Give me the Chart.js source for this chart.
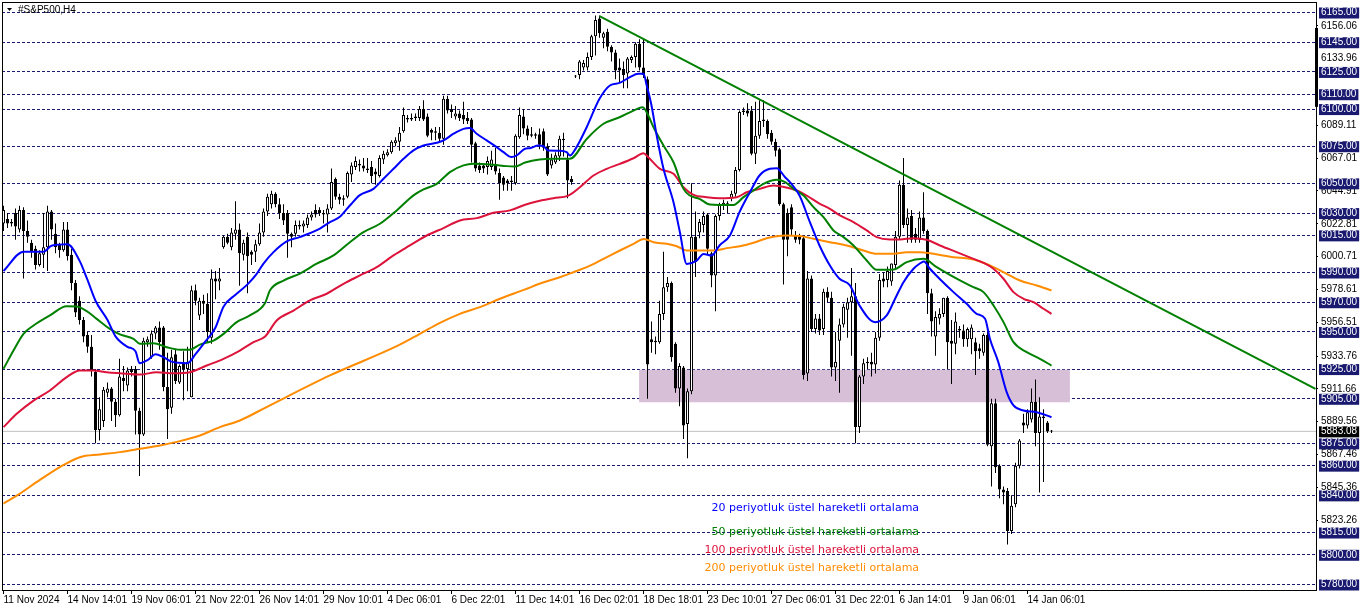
<!DOCTYPE html>
<html>
<head>
<meta charset="utf-8">
<script src="https://cdn.jsdelivr.net/npm/chart.js@4/dist/chart.umd.min.js"></script>
<style>
  html, body { margin: 0; padding: 0; background: #fff; }
  canvas { display: block; }
</style>
</head>
<body>
<canvas id="chart" width="1362" height="611"></canvas>
<script>
// H4 bars, one per index (MT4 style, no time gaps)
const opens = [
  6023,6026,6024,6030,6019,6032,6018,6010,6006,5995,
  6002,6007,6031,6016,6009,6005,6019,6002,5983,5971,
  5958,5948,5940,5923,5884,5890,5909,5912,5903,5894,
  5919,5914,5925,5925,5897,5881,5943,5933,5949,5953,
  5953,5913,5899,5935,5916,5929,5925,5906,5978,5961,
  5971,5969,5946,5986,5984,6007,6014,6007,6016,6019,
  6002,6014,6004,6004,6009,6017,6031,6036,6043,6036,
  6030,6030,6016,6016,6022,6021,6022,6027,6032,6032,
  6030,6029,6033,6053,6041,6039,6041,6056,6061,6063,
  6062,6060,6061,6058,6055,6066,6069,6071,6077,6078,
  6085,6093,6094,6095,6094,6100,6095,6086,6085,6084,
  6080,6107,6100,6095,6097,6096,6094,6093,6077,6062,
  6062,6061,6061,6063,6057,6054,6052,6052,6050,6081,
  6095,6087,6083,6082,6083,6085,6075,6062,6064,6068,
  6079,6066,6053,6122,6123,6128,6128,6135,6149,6161,
  6148,6152,6142,6138,6128,6127,6124,6133,6135,6144,
  6128,6120,5945,5943,5943,5962,5980,5983,5942,5912,
  5926,5888,5910,6014,6017,6022,6029,6003,5988,6028,
  6035,6036,6040,6043,6059,6099,6099,6099,6070,6082,
  6093,6092,6084,6078,6073,6036,6030,6034,6015,6014,
  6013,5922,5986,5952,5959,5952,5977,5973,5926,5944,
  5955,5965,5970,5974,5886,5920,5929,5930,5928,5946,
  5986,5985,5984,5995,6014,6049,6022,6028,6016,6012,
  6027,6018,5976,5947,5959,5962,5973,5944,5942,5952,
  5951,5945,5945,5943,5939,5936,5948,5873,5902,5860,
  5844,5843,5816,5834,5860,5889,5887,5891,5903,5882,
  5893,5889,5883
];
const highs = [
  6035,6030,6026,6033,6035,6034,6025,6012,6008,6005,
  6030,6035,6032,6023,6010,6024,6024,6006,5985,5974,
  5960,5950,5948,5925,5906,5913,5916,5913,5905,5932,
  5927,5926,5927,5927,5899,5946,5947,5951,5954,5957,
  5954,5936,5938,5938,5928,5937,5940,5981,5982,5973,
  5975,5976,5992,5991,5993,6015,6016,6020,6038,6023,
  6012,6017,6005,6012,6023,6033,6043,6045,6044,6040,
  6036,6032,6017,6025,6025,6025,6029,6031,6036,6034,
  6032,6036,6060,6054,6043,6042,6058,6064,6068,6066,
  6067,6067,6065,6060,6069,6072,6073,6079,6081,6088,
  6101,6096,6097,6097,6102,6106,6097,6087,6088,6088,
  6109,6109,6103,6102,6099,6105,6098,6094,6078,6064,
  6063,6068,6072,6074,6060,6055,6053,6055,6083,6101,
  6100,6089,6088,6084,6087,6087,6077,6070,6071,6082,
  6084,6071,6055,6123,6133,6133,6138,6150,6163,6163,
  6152,6154,6143,6140,6134,6132,6135,6136,6145,6147,
  6147,6122,5957,5947,5971,6004,5987,5984,5943,5929,
  5927,5912,6050,6031,6026,6031,6030,6004,6029,6037,
  6039,6038,6045,6061,6099,6101,6104,6102,6105,6106,
  6106,6093,6086,6080,6074,6037,6033,6036,6018,6016,
  6015,5991,5988,5962,5962,5979,5980,5977,5950,5959,
  5969,5973,5993,5983,5921,5932,5933,5936,5950,5989,
  5990,5994,5996,6018,6052,6067,6033,6032,6020,6031,
  6044,6019,5979,5964,5966,5973,5974,5958,5963,5954,
  5955,5953,5955,5946,5942,5949,5950,5905,5905,5861,
  5846,5845,5840,5862,5878,5895,5898,5912,5918,5906,
  5898,5890,5884
];
const lows = [
  6018,6020,6021,6012,6017,5986,6010,6000,5992,5994,
  5993,5991,6012,6003,6000,6004,5998,5978,5960,5955,
  5943,5936,5920,5875,5877,5886,5906,5890,5886,5893,
  5910,5910,5920,5881,5853,5880,5940,5932,5945,5938,
  5910,5878,5895,5915,5915,5904,5910,5906,5968,5958,
  5962,5943,5942,5972,5978,6006,6009,6005,6012,5981,
  5998,5976,5995,5997,6008,6014,6028,6033,6034,6026,
  6022,6000,6007,6014,6019,6017,6020,6025,6027,6028,
  6023,6017,6032,6039,6036,6035,6040,6051,6059,6058,
  6058,6057,6050,6049,6054,6063,6068,6070,6075,6072,
  6084,6091,6092,6092,6092,6092,6081,6079,6079,6078,
  6076,6097,6094,6093,6092,6090,6090,6064,6058,6057,
  6057,6056,6059,6056,6039,6045,6045,6045,6049,6080,
  6083,6079,6081,6080,6073,6072,6055,6060,6063,6065,
  6068,6040,6049,6121,6120,6126,6126,6133,6136,6148,
  6141,6139,6132,6120,6118,6114,6114,6131,6128,6126,
  6121,5905,5936,5935,5942,5958,5977,5930,5909,5900,
  5878,5865,5908,5987,6013,6017,6002,5980,5964,6025,
  6032,6030,6038,6041,6058,6096,6095,6069,6063,6080,
  6088,6080,6076,6068,6035,5982,6001,6015,6010,6009,
  5918,5917,5950,5949,5948,5948,5970,5920,5917,5909,
  5953,5946,5934,5875,5882,5915,5925,5920,5922,5944,
  5980,5980,5981,5993,6012,6020,6010,6010,6010,6010,
  6016,5962,5947,5934,5955,5960,5925,5915,5935,5946,
  5940,5940,5935,5921,5932,5934,5873,5846,5855,5838,
  5834,5807,5814,5832,5858,5882,5885,5889,5873,5842,
  5849,5882,5882
];
const closes = [
  6032,6023,6023,6021,6032,6018,6014,6004,5995,6003,
  6007,6031,6019,6007,6005,6019,6001,5983,5963,5958,
  5947,5940,5924,5884,5898,5911,5912,5903,5894,5920,
  5917,5924,5923,5897,5881,5944,5945,5949,5953,5943,
  5913,5898,5933,5917,5927,5925,5930,5978,5971,5971,
  5969,5950,5986,5984,5986,6014,6010,6017,6019,6003,
  6010,6001,6002,6009,6017,6031,6041,6043,6036,6030,
  6025,6016,6014,6022,6021,6023,6027,6029,6029,6030,
  6029,6033,6051,6041,6039,6040,6057,6062,6065,6062,
  6060,6059,6055,6056,6067,6070,6071,6078,6079,6084,
  6096,6094,6093,6094,6100,6093,6082,6084,6084,6080,
  6107,6099,6098,6097,6094,6093,6092,6076,6060,6059,
  6060,6065,6066,6058,6050,6049,6050,6051,6082,6096,
  6087,6082,6082,6083,6076,6074,6056,6066,6069,6080,
  6080,6052,6051,6122,6132,6131,6135,6149,6160,6151,
  6151,6142,6138,6126,6126,6123,6134,6135,6144,6128,
  6123,5928,5943,5944,5962,5980,5983,5933,5912,5927,
  5887,5910,6014,5997,6024,6028,6006,5988,6028,6036,
  6037,6036.5,6043,6059,6098,6098,6097,6070,6082,6092,
  6092,6083,6078,6072,6036,6012,6012,6019,6012,6012,
  5921,5986,5952,5959,5951,5977,5973,5926,5930,5955,
  5967,5970,5974,5886,5920,5929,5930,5928,5946,5985,
  5984,5991,5996,6014,6049,6022,6027,6012,6012,6027,
  6018,5976,5957,5960,5962,5973,5943,5942,5957,5951,
  5945,5952,5953,5937,5937,5948,5874,5902,5859,5844,
  5842,5816,5833,5860,5877,5887,5896,5903,5882,5893,
  5892,5883,5883.08
];

// moving averages (bar index, price)
const ema20Idx = [0,5,10,12,16,19,21,23,26,28,31,33,34,36,38,40,42,46,48,50,53,55,58,61,63,65,
  67.5,70.8,74,79,81.6,84,86.6,89,92.5,95,97.5,100,102.5,105,108.3,110,112.5,115,116.6,118.3,120.8,123.3,125,127,128.3,130.4,
  131.6,133.7,135,136.2,139,140.8,141.6,143,145.8,149,151.6,154,156.6,158.7,160,160.8,162,163.3,165,167.5,169.1,170.8,173.3,175,177,179,181.6,184,186.6,189,191.6,193.3,195.4,
  196.6,199,201.6,204,206.6,209,211.6,214,217.9,220.8,222.9,225,227.5,229,230.1,231.6,234,237.5,240.8,243.3,245.4,246.6,248.7,250.8,252.5,255,258.3,262];
const ema20 = [5991,6004,6004,6008,6009,5998,5985,5971,5958,5947,5940,5937,5929,5931,5935,5933,5930,5929,5935,5942,5953,5967,5975,5982,5988,5996,
  6003.7,6010.9,6013.8,6019.4,6023.9,6027.3,6035.1,6041.9,6046.3,6053.1,6059.8,6066.5,6072.2,6075.5,6077.3,6078.9,6083.4,6086.7,6087.2,6083.4,6078.9,6074.4,6071,6067.7,6068.8,6073.3,
  6073.7,6075.5,6075,6072.1,6072,6071,6068.7,6073.2,6087.8,6106.9,6115.9,6117.6,6121.5,6123.7,6123.7,6115.9,6102.4,6082.2,6059.8,6037.3,6017.1,5995.8,5998,6002.5,6001.4,6008.2,6014.9,6030.6,6044,6055.3,6059.8,6060.2,6054.1,
  6050.8,6041.8,6023.9,6008.2,5994.7,5985.8,5981.3,5967.8,5956.6,5961.1,5972.3,5983.5,5992.5,5995.9,5997.4,5992.5,5985.8,5976.8,5968.9,5962.2,5958.8,5945.4,5929.7,5909.5,5900.5,5897.1,5896,5892.6];

const ema50Idx = [0,2.5,5,7.5,11.6,15.8,18.3,20.8,23.3,26.6,29.1,32.5,34.1,37.5,40.8,44.1,46.6,49.1,52.5,55,58.3,61.6,65.4,
  66.6,70,74,78.3,82.5,86.6,90,94.1,98.3,102.5,105,108.3,111.6,115,117.5,122.5,125.8,127.9,130.4,
  134,137.5,141.6,145.8,150,154,157.5,159.8,161.2,162.5,165,167.5,170,171.6,174,176.6,179,182.5,185,187.5,190,193.3,195.4,
  197.5,200,202.5,205,207.5,210,212.5,215.8,218.3,222.5,225.8,230,233.3,238.3,242.5,245,247.5,250,252.5,255.8,259.1,262];
const ema50 = [5925.2,5937.5,5948.7,5954.3,5961.1,5967.3,5967.1,5964,5958.8,5952.1,5948.3,5945.4,5942,5942.4,5939.7,5938,5938,5941.5,5944.2,5948.7,5956.6,5961.1,5969.5,
  5977.9,5984.6,5989.1,5995.9,6001.5,6010.4,6017.2,6022.8,6031.8,6041.9,6045.9,6049.7,6057.6,6062.1,6063.2,6062.5,6061.6,6061.4,6064,
  6066,6066.5,6066.5,6079.9,6090.1,6094.5,6099,6101.3,6095.7,6087.8,6075.5,6064.2,6046.3,6041.8,6039.6,6035.7,6035.5,6035.5,6040.7,6045.2,6049.7,6052.4,6050.8,
  6046.3,6041.8,6034,6027.3,6018.3,6013.8,6008.2,5998.1,5991.8,5992,5997,5999.2,5993.6,5985.8,5980.1,5976.8,5967.8,5956.6,5943.1,5936.4,5931.9,5927.4];

const ema100Idx = [0,3.3,7.5,11.6,15.8,19.1,22.5,25.8,29.1,34.1,38.3,42.5,46.6,50.8,55,59.1,62.5,65.4,
  68.3,72.5,76.6,80.8,85,89.1,93.3,97.5,101.6,105.8,110,114.1,118.3,122.5,126.6,130.4,
  133.3,137.5,141.2,144.1,147.5,150.8,154.1,157.5,160,161.2,164.1,167.5,170,172.5,175.8,179,183.3,185.8,189.1,192.5,195.4,
  198.3,200.8,204.1,206.6,209.1,212.5,215.8,218.3,221.6,224.1,227.5,230.8,234.1,238.3,242.5,245,247.5,250,252.5,255,257.5,260,262];
const ema100 = [5885.9,5894.9,5903.8,5910.6,5919.6,5924,5924,5922.9,5922.2,5921.3,5922.9,5922.2,5922.9,5927.4,5931.9,5937.5,5943.1,5946.9,
  5957.7,5964.4,5971.2,5975.7,5982.4,5988,5993.6,6001.5,6008.2,6014.9,6019.9,6025,6026.6,6030.2,6031.8,6035.6,
  6037.8,6040,6041.8,6047.4,6055.3,6059.8,6063.1,6066.9,6070.3,6067.6,6059.8,6056.4,6047.4,6042.3,6040.7,6040,6040.7,6044,6046.3,6048.5,6047.4,
  6045.2,6041.8,6036.2,6032.9,6028.4,6023.9,6018.3,6013.8,6012.2,6012.2,6013.1,6012,6008.2,6003.7,5999.2,5996.5,5992.5,5985.8,5976.8,5972.3,5970,5965.6,5962.2];

const ema200Idx = [0,4,9.1,14.1,19.1,24.1,29.1,34.1,39.1,44.1,49.1,54.1,59.1,65.4,81.6,98.7,104.1,109.1,114.1,119.1,124.1,130.4,
  134,139.1,142.5,145.8,150,154.1,157.5,160.1,162.5,165.8,168.3,170.8,174.1,177.5,180.8,184.1,187.5,190.8,195.4,
  199.1,202.5,206.6,210.8,215,218.3,222.5,225.8,229.1,232.5,237.5,241.6,244.1,247.5,250.8,254.1,258.3,262];
const ema200 = [5834.5,5841,5850.4,5859,5865.7,5867.5,5869.1,5871.3,5873.6,5876.5,5880.3,5885.9,5890.4,5898.9,5920.7,5940.9,5948.7,5956.1,5962.2,5966.7,5972.3,5978.6,
  5982.4,5986.8,5990.2,5993.6,5999.2,6004.8,6009.3,6012.6,6010.4,6009.3,6007.7,6004.8,6004.8,6004.8,6006.4,6007.7,6010,6013.1,6014.9,
  6014.5,6012.7,6010.4,6008.2,6004.8,6002.6,6002.6,6003.7,6003.7,6002.6,6000.3,5999.2,5997.4,5993.6,5989.1,5984.6,5981.3,5977.9];

// chart objects
const trendIdx = [149, 328];
const trendPrice = [6162.5, 5911.6];
const zoneIdx = [158.9, 266.6];
const zonePrice = [5902.7, 5924.5];
const lastPrice = 5883.08;
const levels = [6165,6145,6125,6110,6100,6075,6050,6030,6015,5990,5970,5950,5925,5905,5875,5860,5840,5815,5800,5780];
const scaleTicks = [6156.06,6133.96,6089.11,6067.01,6044.91,6022.81,6000.71,5978.61,5956.51,5933.76,5911.66,5889.56,5867.46,5845.36,5823.26];
const dateIdx = [0,16,32,48,64,80,96,112,128,144,160,176,192,208,224,240,256];
const dateLabels = ['11 Nov 2024','14 Nov 14:01','19 Nov 06:01','21 Nov 22:01','26 Nov 14:01','29 Nov 10:01','4 Dec 06:01',
  '6 Dec 22:01','11 Dec 14:01','16 Dec 02:01','18 Dec 18:01','23 Dec 10:01','27 Dec 06:01','31 Dec 22:01','6 Jan 14:01','9 Jan 06:01','14 Jan 06:01'];
const notes = ['20 periyotluk üstel hareketli ortalama','50 periyotluk üstel hareketli ortalama',
  '100 periyotluk üstel hareketli ortalama','200 periyotluk üstel hareketli ortalama'];
const noteIdx = 228.9;
const notePrice = [5831.7, 5815.5, 5803.2, 5790.9];
const scaleBar = [6154.6, 6101.5];

const NAVY = '#191970';
const noteColors = ['#0000ff', '#008000', '#dc143c', '#ff8c00'];

Chart.defaults.font.family = '"Liberation Sans", Arial, sans-serif';
Chart.defaults.font.size = 10;
Chart.defaults.color = '#000';

const tv = c => (c && c.tick ? c.tick.value : null);
const isLevel = c => levels.includes(tv(c));

function emaSet(idx, vals, color, order) {
  return {
    type: 'line',
    data: idx.map((v, k) => ({x: v, y: vals[k]})),
    borderColor: color,
    borderWidth: 2,
    pointRadius: 0,
    cubicInterpolationMode: 'monotone',
    fill: false,
    order: order
  };
}

const overlay = {
  id: 'overlay',
  afterDatasetsDraw(chart) {
    const {ctx, scales: {x, y}} = chart;
    ctx.save();
    ctx.font = '11px "DejaVu Sans"';
    ctx.textAlign = 'right';
    ctx.textBaseline = 'middle';
    notes.forEach((t, k) => {
      ctx.fillStyle = noteColors[k];
      ctx.fillText(t, x.getPixelForValue(noteIdx), y.getPixelForValue(notePrice[k]));
    });
    ctx.restore();
  },
  afterDraw(chart) {
    const {ctx, chartArea: a, scales: {y}} = chart;
    ctx.save();
    ctx.strokeStyle = '#000';
    ctx.lineWidth = 1;
    ctx.strokeRect(a.left + 0.5, a.top + 0.5, a.right - a.left, a.bottom - a.top);
    // thick marker on the price scale
    const y1 = y.getPixelForValue(scaleBar[0]), y2 = y.getPixelForValue(scaleBar[1]);
    ctx.fillStyle = '#000';
    ctx.fillRect(a.right - 1, y1, 3, y2 - y1);
    // symbol title
    ctx.beginPath();
    ctx.moveTo(7, 8); ctx.lineTo(12, 8); ctx.lineTo(9.5, 11); ctx.closePath();
    ctx.fill();
    ctx.font = '10px "Liberation Sans"';
    ctx.textBaseline = 'middle';
    ctx.textAlign = 'left';
    ctx.fillText('#S&P500,H4', 18, 10);
    ctx.restore();
  }
};

const wickData = opens.map((_, i) => ({x: i, y: [lows[i], highs[i]]}));
const bodyData = opens.map((o, i) => ({x: i, y: [o, closes[i]]}));
const bodyColors = opens.map((o, i) => (closes[i] >= o ? '#ffffff' : '#000000'));

new Chart(document.getElementById('chart'), {
  type: 'bar',
  data: {
    datasets: [
      {
        type: 'line',
        data: [{x: zoneIdx[0], y: zonePrice[1]}, {x: zoneIdx[1], y: zonePrice[1]}],
        fill: {value: zonePrice[0]},
        backgroundColor: '#d8bfd8',
        borderWidth: 0,
        pointRadius: 0,
        order: 10
      },
      {
        type: 'line',
        data: [{x: -0.375, y: lastPrice}, {x: 328.125, y: lastPrice}],
        borderColor: '#c0c0c0',
        borderWidth: 1,
        pointRadius: 0,
        order: 9
      },
      {
        data: wickData,
        backgroundColor: '#000',
        borderWidth: 0,
        barThickness: 1,
        grouped: false,
        inflateAmount: 0,
        order: 8
      },
      {
        data: bodyData,
        backgroundColor: bodyColors,
        borderColor: '#000',
        borderWidth: 1,
        borderSkipped: false,
        barThickness: 3,
        grouped: false,
        inflateAmount: 0,
        minBarLength: 1,
        order: 7
      },
      emaSet(ema200Idx, ema200, '#ff8c00', 5),
      emaSet(ema100Idx, ema100, '#dc143c', 4),
      emaSet(ema50Idx, ema50, '#008000', 3),
      emaSet(ema20Idx, ema20, '#0000ff', 2),
      {
        type: 'line',
        data: trendIdx.map((v, k) => ({x: v, y: trendPrice[k]})),
        borderColor: '#008000',
        borderWidth: 2,
        pointRadius: 0,
        order: 1
      }
    ]
  },
  options: {
    responsive: false,
    animation: false,
    devicePixelRatio: 1,
    events: [],
    layout: {padding: {left: 2, top: 2, right: 0, bottom: 0}},
    plugins: {legend: {display: false}, tooltip: {enabled: false}},
    scales: {
      x: {
        type: 'linear',
        min: -0.375,
        max: 328.125,
        offset: false,
        bounds: 'data',
        afterBuildTicks: s => { s.ticks = dateIdx.map(v => ({value: v})); },
        afterFit: s => { s.height = 21; s.paddingLeft = 0; s.paddingRight = 0; },
        grid: {drawOnChartArea: false, drawTicks: true, tickLength: 4, color: '#000', offset: false},
        border: {display: false},
        ticks: {
          autoSkip: false, maxRotation: 0, minRotation: 0, align: 'start', padding: 0,
          color: '#000', font: {size: 10},
          callback: (v, k) => dateLabels[k]
        }
      },
      y: {
        type: 'linear',
        position: 'right',
        min: 5776.30,
        max: 6172.07,
        bounds: 'data',
        afterBuildTicks: s => { s.ticks = scaleTicks.concat(levels, [lastPrice]).map(v => ({value: v})); },
        afterFit: s => { s.width = 46; s.paddingTop = 0; s.paddingBottom = 0; },
        grid: {
          color: c => (isLevel(c) ? NAVY : 'rgba(0,0,0,0)'),
          tickColor: c => (tv(c) === lastPrice || isLevel(c) ? 'rgba(0,0,0,0)' : '#000'),
          tickLength: 2,
          lineWidth: 1,
          borderDash: [3, 2]
        },
        border: {display: false, dash: [3, 2]},
        ticks: {
          autoSkip: false,
          padding: 3,
          font: {size: 10},
          callback: v => v.toFixed(2),
          color: c => (isLevel(c) || tv(c) === lastPrice ? '#ffffff' : '#000000'),
          showLabelBackdrop: c => isLevel(c) || tv(c) === lastPrice,
          backdropColor: c => (tv(c) === lastPrice ? '#000000' : NAVY),
          backdropPadding: {left: 2, right: 2, top: -1, bottom: 0}
        }
      }
    }
  },
  plugins: [overlay]
});
</script>
</body>
</html>
